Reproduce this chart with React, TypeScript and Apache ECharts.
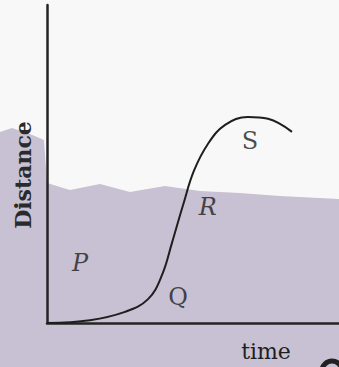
import React, { useEffect, useRef } from "react";
import * as echarts from "echarts";

// Curve (arbitrary time / distance units)
const timeValues = [0, 1.47, 2.67, 3.46, 3.94, 4.28, 4.66, 5.03, 5.51, 6.1, 6.88, 7.57, 8.39];
const distanceValues = [0, 0.09, 0.35, 0.75, 1.51, 2.52, 3.71, 4.78, 5.63, 6.23, 6.48, 6.42, 6.01];

// Region labels
const labelNames = ["P", "Q", "R", "S"];
const labelTimes = [1.13, 4.49, 5.51, 6.95];
const labelDistances = [1.89, 0.82, 3.65, 5.72];
const labelItalic = [true, false, true, false];

const xTitle = "time";
const yTitle = "Distance";

export default function App() {
  const ref = useRef<HTMLDivElement>(null);

  useEffect(() => {
    if (!ref.current) return;
    const chart = echarts.init(ref.current, undefined, { renderer: "svg" });
    const serif = "DejaVu Serif";
    chart.setOption({
      animation: false,
      backgroundColor: "#f8f8f8",
      grid: { left: 47, right: 0, top: 5, bottom: 44 },
      xAxis: {
        type: "value",
        min: 0,
        max: 10,
        axisLine: { show: true, lineStyle: { color: "#242424", width: 2.5 } },
        axisTick: { show: false },
        axisLabel: { show: false },
        splitLine: { show: false },
      },
      yAxis: {
        type: "value",
        min: 0,
        max: 10,
        axisLine: { show: true, lineStyle: { color: "#242424", width: 2.5 } },
        axisTick: { show: false },
        axisLabel: { show: false },
        splitLine: { show: false },
      },
      graphic: [
        {
          type: "polygon",
          z: -10,
          silent: true,
          shape: {
            points: [
              [0, 132], [12, 128], [30, 134], [44, 140], [47, 183], [70, 190], [100, 184],
              [130, 192], [165, 186], [200, 191], [240, 193], [280, 196], [339, 199],
              [339, 367], [0, 367],
            ],
          },
          style: { fill: "#c8c0d3" },
        },
        {
          type: "text",
          x: 23,
          y: 175,
          rotation: Math.PI / 2,
          style: {
            text: yTitle,
            fontFamily: serif,
            fontWeight: "bold",
            fontSize: 22,
            fill: "#2a2a2a",
            align: "center",
            verticalAlign: "middle",
          },
        },
        {
          type: "text",
          x: 266,
          y: 351,
          style: {
            text: xTitle,
            fontFamily: serif,
            fontSize: 22,
            fill: "#1e1e1e",
            align: "center",
            verticalAlign: "middle",
          },
        },
        {
          type: "arc",
          shape: { cx: 332, cy: 371, r: 10, startAngle: Math.PI, endAngle: Math.PI * 2 },
          style: { stroke: "#222", lineWidth: 5, fill: "none" },
        },
      ],
      series: [
        {
          type: "line",
          data: timeValues.map((t, i) => [t, distanceValues[i]]),
          smooth: 0.4,
          showSymbol: false,
          lineStyle: { color: "#1e1e1e", width: 2 },
        },
        {
          type: "scatter",
          symbolSize: 0,
          data: labelNames.map((n, i) => ({
            name: n,
            value: [labelTimes[i], labelDistances[i]],
            label: { fontStyle: labelItalic[i] ? "italic" : "normal" },
          })),
          label: {
            show: true,
            position: "inside",
            formatter: "{b}",
            fontFamily: serif,
            fontSize: 24,
            color: "#1e1e1e",
          },
        },
      ],
    });
    return () => chart.dispose();
  }, []);

  return (
    <div
      ref={ref}
      style={{ position: "fixed", left: 0, top: 0, width: 339, height: 367 }}
    />
  );
}
